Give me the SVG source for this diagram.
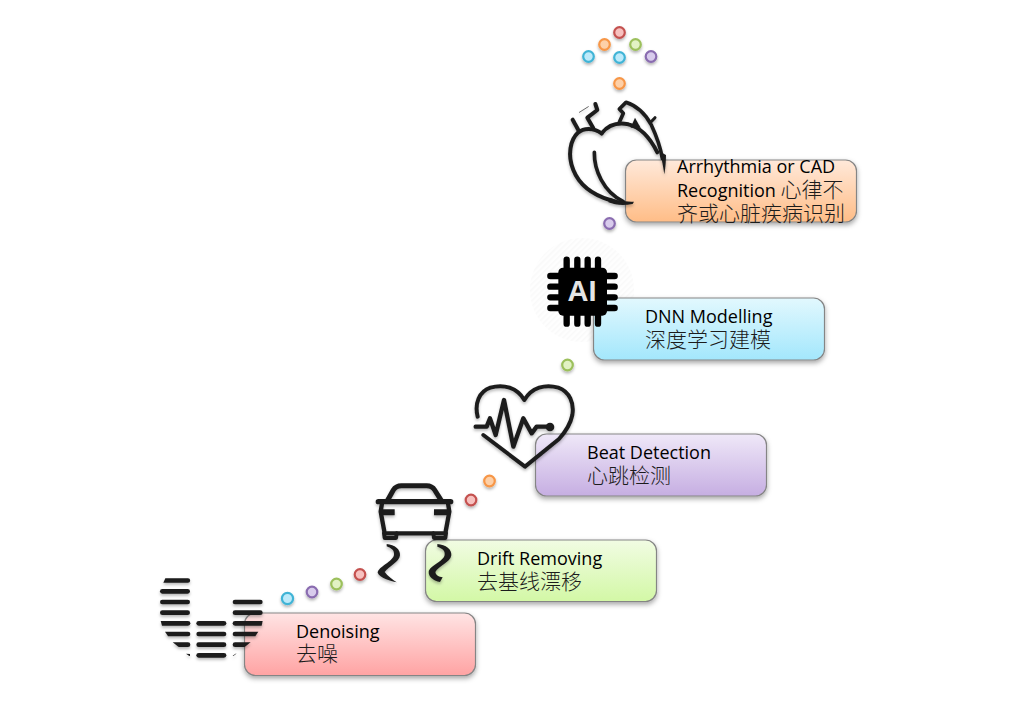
<svg xmlns="http://www.w3.org/2000/svg" width="1014" height="703" viewBox="0 0 1014 703">
<style>
.box{stroke:#858585;stroke-width:1.2}
.lat{font-family:"Open Sans","Liberation Sans","Noto Sans CJK SC",sans-serif;font-size:18px;fill:#000}
.cjk{font-family:"Noto Sans CJK SC","Noto Sans CJK TC",sans-serif;font-size:21px;font-weight:300;fill:#1c1c1c}
.dot{stroke-width:2.2}
.blue{fill:#bdeafa;stroke:#41b4d6}.purple{fill:#d8cbec;stroke:#8a6cb0}.green{fill:#e2f2c4;stroke:#9cc05c}.red{fill:#f7c1bf;stroke:#c4514f}.orange{fill:#fdd0a8;stroke:#f79646}
.ln{fill:none;stroke:#1e1e1e;stroke-linecap:round;stroke-linejoin:round}
.bar{fill:#1e1e1e}
</style>
<defs>
<filter id="sh" x="-20%" y="-20%" width="140%" height="150%"><feDropShadow dx="0" dy="2.5" stdDeviation="2.5" flood-color="#000" flood-opacity=".35"/></filter>
<filter id="dsh" x="-60%" y="-60%" width="220%" height="240%"><feGaussianBlur in="SourceGraphic" stdDeviation=".35" result="b"/><feDropShadow in="b" dx="0" dy="2" stdDeviation="1.6" flood-color="#000" flood-opacity=".3"/></filter>
<filter id="ish" x="-15%" y="-15%" width="130%" height="135%"><feGaussianBlur in="SourceGraphic" stdDeviation="1.2" result="b"/><feDropShadow in="b" dx="0" dy="6" stdDeviation="5" flood-color="#000" flood-opacity=".28"/></filter>
<linearGradient id="gr" x1="0" y1="0" x2="0" y2="1"><stop offset="0" stop-color="#ffe4e4"/><stop offset="1" stop-color="#ffa3a3"/></linearGradient>
<linearGradient id="gg" x1="0" y1="0" x2="0" y2="1"><stop offset="0" stop-color="#f1fce3"/><stop offset="1" stop-color="#d3f8a6"/></linearGradient>
<linearGradient id="gp" x1="0" y1="0" x2="0" y2="1"><stop offset="0" stop-color="#efe8f8"/><stop offset="1" stop-color="#c6aee2"/></linearGradient>
<linearGradient id="gb" x1="0" y1="0" x2="0" y2="1"><stop offset="0" stop-color="#e2f8fe"/><stop offset="1" stop-color="#a3e7fc"/></linearGradient>
<linearGradient id="go" x1="0" y1="0" x2="0" y2="1"><stop offset="0" stop-color="#ffe9da"/><stop offset="1" stop-color="#ffbd87"/></linearGradient>
<pattern id="hatch" width="4" height="4" patternUnits="userSpaceOnUse" patternTransform="rotate(-45)"><rect width="4" height="4" fill="#fefefe"/><rect width="4" height="1.5" fill="#f9f9f9"/></pattern>
</defs>

<g id="connectors">
<circle class="dot red" cx="619.500" cy="32.500" r="5.300" filter="url(#dsh)"/>
<circle class="dot orange" cx="604.500" cy="44.500" r="5.300" filter="url(#dsh)"/>
<circle class="dot green" cx="635.500" cy="44.500" r="5.300" filter="url(#dsh)"/>
<circle class="dot blue" cx="588.500" cy="56.500" r="5.300" filter="url(#dsh)"/>
<circle class="dot blue" cx="619.500" cy="57.500" r="5.300" filter="url(#dsh)"/>
<circle class="dot purple" cx="651" cy="56.500" r="5.300" filter="url(#dsh)"/>
<circle class="dot orange" cx="619.500" cy="83.500" r="5.300" filter="url(#dsh)"/>
<circle class="dot purple" cx="609.500" cy="223.500" r="5.300" filter="url(#dsh)"/>
<circle class="dot green" cx="567.500" cy="365" r="5.300" filter="url(#dsh)"/>
<circle class="dot orange" cx="489.500" cy="481" r="5.300" filter="url(#dsh)"/>
<circle class="dot red" cx="471" cy="500" r="5.300" filter="url(#dsh)"/>
<circle class="dot red" cx="360" cy="574.500" r="5.300" filter="url(#dsh)"/>
<circle class="dot green" cx="336.500" cy="584" r="5.300" filter="url(#dsh)"/>
<circle class="dot purple" cx="312" cy="592" r="5.300" filter="url(#dsh)"/>
<circle class="dot blue" cx="287.500" cy="598.500" r="5.600" filter="url(#dsh)"/>
</g>

<g id="node-denoising">
<rect class="box" x="244.500" y="613" width="231" height="62.500" rx="11" fill="url(#gr)" filter="url(#sh)"/>
<g transform="translate(150,570) scale(.33333)" filter="url(#ish)">
<path class="bar" d="M46 25H114a6.500 6.500 0 0 1 0 13H40Z"/>
<rect class="bar" x="30" y="57" width="90" height="14" rx="7"/>
<rect class="bar" x="30" y="89" width="90" height="14" rx="7"/>
<rect class="bar" x="30" y="121" width="90" height="14" rx="7"/>
<path class="bar" d="M32 153H114a7 7 0 0 1 0 14H36Z"/>
<path class="bar" d="M45 185H114a7 7 0 0 1 0 14H54Z"/>
<path class="bar" d="M68 217H114a7 7 0 0 1 0 14H86Z"/>
<path class="bar" d="M108 251L120 252V258H118Z"/>
<rect class="bar" x="139" y="153" width="90" height="14" rx="7"/>
<rect class="bar" x="139" y="185" width="90" height="14" rx="7"/>
<rect class="bar" x="139" y="217" width="90" height="14" rx="7"/>
<rect class="bar" x="139" y="249" width="90" height="14" rx="7"/>
<rect class="bar" x="248" y="89" width="90" height="14" rx="7"/>
<rect class="bar" x="248" y="121" width="90" height="14" rx="7"/>
<path class="bar" d="M255 153H338L335 167H255a7 7 0 0 1 0-14Z"/>
<path class="bar" d="M255 185H325L316 199H255a7 7 0 0 1 0-14Z"/>
<path class="bar" d="M255 217H302L284 231H255a7 7 0 0 1 0-14Z"/>
<path class="bar" d="M248 257L259 250L258 252L250 258Z"/>
</g>
<text class="lat" x="296" y="638">Denoising</text>
<text class="cjk" x="296" y="661">去噪</text>
</g>

<g id="node-drift">
<rect class="box" x="425.500" y="540" width="231" height="61.500" rx="11" fill="url(#gg)" filter="url(#sh)"/>
<g transform="translate(360,470) scale(.33333)" filter="url(#ish)">
<path class="ln" stroke-width="15" d="M82 92L100 60Q108 47 124 47H200Q216 47 224 60L244 92"/>
<path class="ln" stroke-width="16" d="M55 95H272"/>
<path class="ln" stroke-width="13" d="M66 100L62 125L74 190H256L268 125L264 100"/>
<path class="bar" d="M58 118H104V136H62Z"/>
<path class="bar" d="M222 118H268L264 136H222Z"/>
<path class="ln" stroke-width="12" d="M72 190L74 204H108L110 190"/>
<path class="ln" stroke-width="12" d="M220 190L222 204H256L258 190"/>
<path class="bar" d="M80 222C104 224 122 238 120 256C118 276 86 290 74 306C84 318 96 328 110 337C90 332 60 324 53 308C54 290 100 274 102 254C104 240 92 234 80 229Z"/>
<path class="bar" d="M232 222C258 224 276 238 274 256C272 276 234 290 226 306C228 316 236 320 248 322L240 336C222 332 206 322 206 306C208 286 252 274 254 254C256 240 244 234 232 230Z"/>
</g>
<text class="lat" x="477" y="565">Drift Removing</text>
<text class="cjk" x="477" y="589">去基线漂移</text>
</g>

<g id="node-beat">
<rect class="box" x="535.500" y="434" width="231" height="62" rx="11" fill="url(#gp)" filter="url(#sh)"/>
<g transform="translate(465,375) scale(.33333)" filter="url(#ish)">
<path class="ln" stroke-width="12" d="M38 125C28 85 42 50 76 38C116 26 156 38 178 75C200 38 240 26 280 38C314 50 328 85 322 120C316 150 300 172 282 192L180 275L55 180"/>
<path class="ln" stroke-width="13" d="M32 155H65L75 130L92 180L117 75L145 215L175 130L200 175L215 155H255"/>
<circle class="bar" cx="255" cy="156" r="13"/>
</g>
<text class="lat" x="587" y="459">Beat Detection</text>
<text class="cjk" x="587" y="483">心跳检测</text>
</g>

<g id="node-dnn">
<circle cx="582" cy="290" r="52" fill="url(#hatch)"/>
<rect class="box" x="593.500" y="298" width="231" height="62" rx="11" fill="url(#gb)" filter="url(#sh)"/>
<g transform="translate(535,245) scale(.33333)">
<rect x="70" y="68" width="146" height="144" rx="14" fill="#000"/>
<path d="M95 44V236M127 44V236M158 44V236M189 44V236M46 93H239M46 125H239M46 157H239M46 189H239" fill="none" stroke="#000" stroke-width="19" stroke-linecap="round"/>
</g>
<text x="582" y="301" text-anchor="middle" font-family="Liberation Sans, Arial, sans-serif" font-weight="700" font-size="29" fill="#e4e4e4">AI</text>
<text class="lat" x="645" y="323">DNN Modelling</text>
<text class="cjk" x="645" y="347">深度学习建模</text>
</g>

<g id="node-recognition">
<rect class="box" x="625.500" y="160" width="231" height="62" rx="11" fill="url(#go)" filter="url(#sh)"/>
<g transform="translate(560,95) scale(.33333)" filter="url(#ish)">
<path class="ln" stroke-width="12" d="M125 115C100 98 72 98 55 112C30 135 22 180 40 225C58 270 100 300 150 315L165 320"/>
<path class="bar" d="M150 308C175 318 200 320 222 320L218 327C190 332 165 330 145 322Z"/>
<path class="ln" stroke-width="12" d="M125 115C145 90 175 82 205 88C240 96 270 128 292 172"/>
<path class="ln" stroke-width="11" d="M178 82L190 55L178 42L198 22C228 32 256 56 274 90C288 120 300 150 307 190"/>
<path class="bar" d="M300 170L318 180C318 200 316 220 313 238C310 218 306 195 300 170Z"/>
<path class="bar" d="M225 68L242 98H212Z"/>
<path class="ln" stroke-width="9" d="M272 82L285 68"/>
<path class="ln" stroke-width="12" d="M38 74L55 105"/>
<path class="ln" stroke-width="12" d="M100 100L82 68L112 45L106 27"/>
<path class="ln" stroke-width="2" stroke="#777" d="M58 52L85 35"/>
<path class="ln" stroke-width="11" d="M103 172C102 225 130 290 190 320"/>
</g>
<text class="lat" x="677" y="173">Arrhythmia or CAD</text>
<text x="677" y="197"><tspan class="lat">Recognition </tspan><tspan class="cjk">心律不</tspan></text>
<text class="cjk" x="677" y="221">齐或心脏疾病识别</text>
</g>
</svg>
